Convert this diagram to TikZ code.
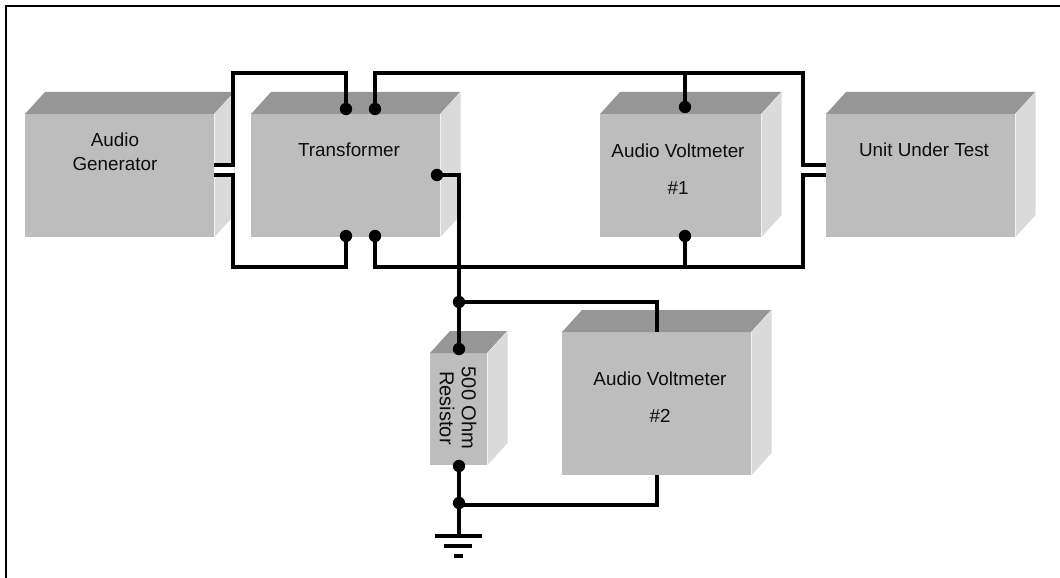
\documentclass[tikz,border=0pt]{standalone}
\usepackage{fontspec}
\setmainfont{Liberation Sans}
\definecolor{frontgray}{RGB}{189, 189, 189}
\definecolor{topgray}{RGB}{150, 150, 150}
\definecolor{sidegray}{RGB}{218, 218, 218}
\usetikzlibrary{positioning, calc}

% front face of a box, then its top and side faces: name, x, y, width, height
\newcommand{\solidbox}[5]{
  \node[frontface, minimum width=#4*0.025cm, minimum height=#5*0.025cm] (#1) at (#2, #3) {};
  \fill[topgray] (#1.north west) -- ++(20, -22) -- ++(#4, 0) -- ++(-20, 22) -- cycle;
  \fill[sidegray] (#1.north east) -- ++(20, -22) -- ++(0, #5) -- ++(-20, 22) -- cycle;
}

\begin{document}
\begin{tikzpicture}[
  x=0.025cm, y=-0.025cm,
  frontface/.style={fill=frontgray, anchor=north west, inner sep=0pt},
  lbl/.style={font=\fontsize{13.4}{17}\selectfont, align=center, inner sep=0pt, text=black!95},
  wire/.style={draw=black, line width=2.2pt},
  dot/.style={circle, fill=black, inner sep=0pt, minimum size=8.8pt},
  gbar/.style={draw=black, line width=2.8pt}
]
  \useasboundingbox (0, 0) rectangle (1060, 578);
  \draw[black, line width=1.8pt] (6, 578) -- (6, 6) -- (1060, 6);

  \solidbox{gen}{25}{114}{189}{123}
  \solidbox{trans}{251}{114}{189}{123}
  \solidbox{vone}{600}{114}{161}{123}
  \solidbox{uut}{826}{114}{189}{123}
  \solidbox{res}{430}{353}{57}{112}
  \solidbox{vtwo}{562}{332}{189}{143}

  \node[lbl] (genlbl) at (115, 152) {Audio\\Generator};
  \node[lbl] (translbl) at (349, 150) {Transformer};
  \node[lbl] (vonelbl) at (678, 169) {Audio Voltmeter\\[9.3pt]\#1};
  \node[lbl] (uutlbl) at (924, 150) {Unit Under Test};
  \node[lbl, font=\fontsize{14.3}{15.6}\selectfont, rotate=-90] (reslbl) at (458, 408) {500 Ohm\\Resistor};
  \node[lbl] (vtwolbl) at (660, 397) {Audio Voltmeter\\[9.3pt]\#2};

  % gap between the two generator leads
  \fill[white] (214, 167) rectangle (234, 173);

  \node[dot] (tl) at (346, 109) {};
  \node[dot] (tr) at (375, 109) {};
  \node[dot] (bl) at (346, 236) {};
  \node[dot] (br) at (375, 236) {};
  \node[dot] (out) at (437, 175) {};
  \node[dot] (vonet) at (685, 107) {};
  \node[dot] (voneb) at (685, 236) {};
  \node[dot] (rest) at (459, 349) {};
  \node[dot] (resb) at (459, 466) {};
  \node[dot] (jtop) at (459, 302) {};
  \node[dot] (jbot) at (459, 503) {};

  \coordinate (gena) at (214, 165);
  \coordinate (genb) at (214, 175);
  \coordinate (uuta) at (826, 165);
  \coordinate (uutb) at (826, 175);
  \coordinate (vtwot) at (657, 332);
  \coordinate (vtwob) at (657, 475);
  \coordinate (gnd) at (459, 536);

  \draw[wire] (gena) -- (233, 165) |- (346, 73) -- (tl);
  \draw[wire] (genb) -- (233, 175) |- (346, 267) -- (bl);
  \draw[wire] (tr) -- (375, 73) -| (803, 165) -- (uuta);
  \draw[wire] (br) -- (375, 267) -| (803, 175) -- (uutb);
  \draw[wire] (vonet) -- (685, 73);
  \draw[wire] (voneb) -- (685, 267);
  \draw[wire] (out) -| (rest);
  \draw[wire] (jtop) -| (vtwot);
  \draw[wire] (jbot.center) ++(0, 2) -| (vtwob);
  \draw[wire] (resb) -- (gnd);

  % ground
  \draw[gbar] (435, 536) -- (482, 536);
  \draw[gbar] (444, 546) -- (472, 546);
  \draw[gbar] (454, 556) -- (463, 556);
\end{tikzpicture}
\end{document}
